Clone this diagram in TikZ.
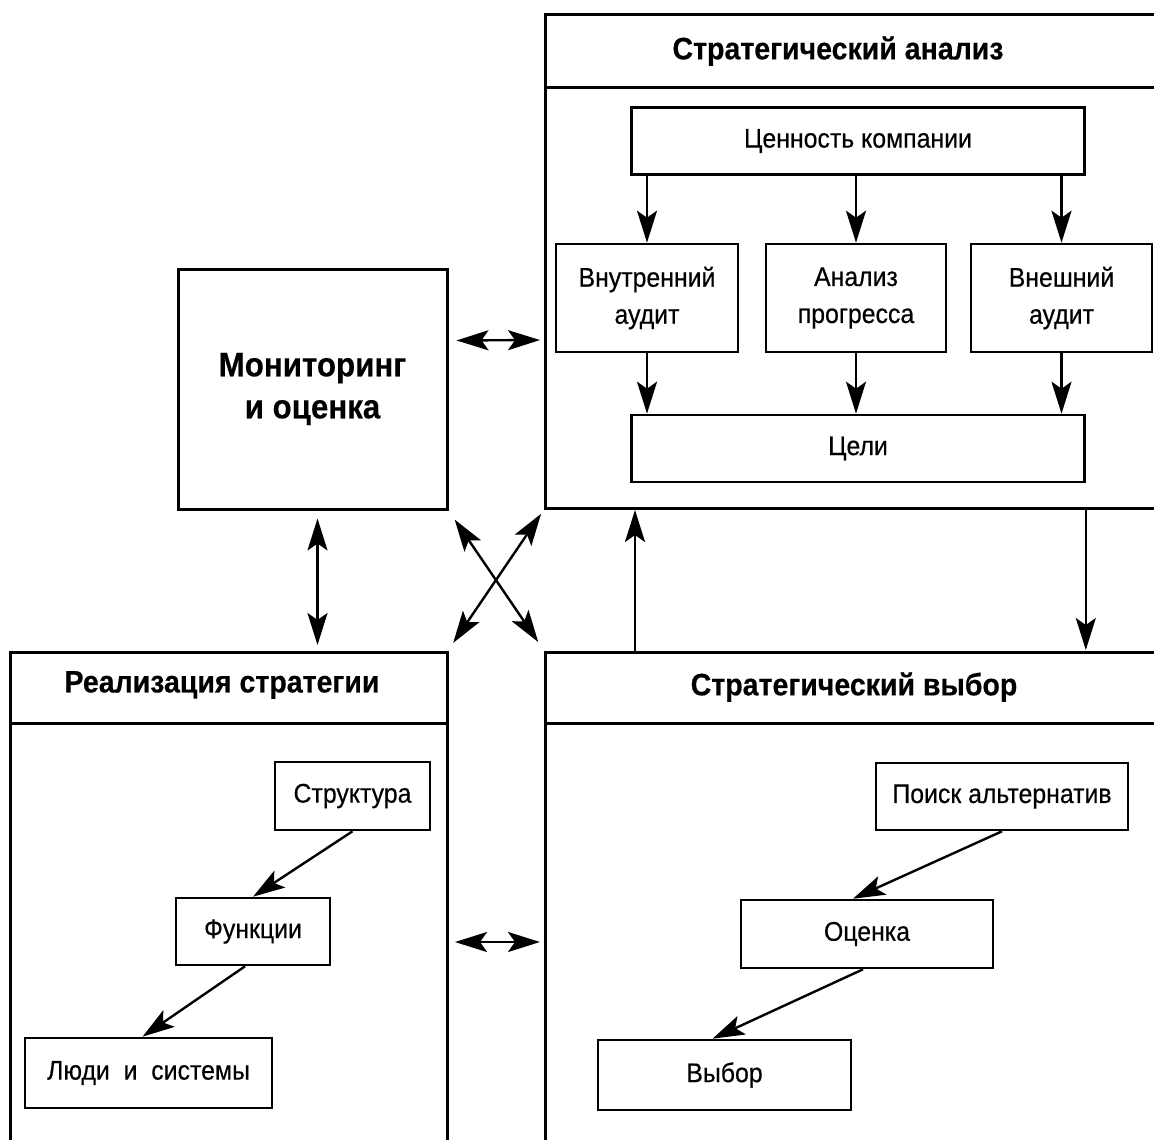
\documentclass[tikz,border=0pt]{standalone}
\usepackage{fontspec}
\setmainfont{Liberation Sans}[FakeStretch=0.92,FakeBold=0.4]
\usetikzlibrary{arrows.meta,positioning,calc}

\begin{document}
\begin{tikzpicture}[x=1pt,y=-1pt,
    >={Stealth[length=32pt,width=20pt,inset=7pt]},
    panel/.style={draw,line width=3pt,anchor=north west,outer sep=0pt,inner sep=0pt},
    box/.style={draw,line width=2.6pt,align=center,inner sep=0pt,font=\fontsize{27}{37}\selectfont},
    heading/.style={font=\fontsize{31}{36}\selectfont\bfseries},
    link/.style={line width=2.4pt}]
    % Canvas
    \useasboundingbox (0,0) rectangle (1154,1140);
    \clip (0,0) rectangle (1154,1140);

    % Panels
    \node[panel,minimum width=655pt,minimum height=493pt] (analysis) at (545,15) {};
    \node[panel,minimum width=437pt,minimum height=548pt] (implementation) at (10,652) {};
    \node[panel,minimum width=655pt,minimum height=548pt] (choice) at (545,652) {};
    \draw[line width=3pt] ([yshift=-72pt]analysis.north west) -- ([yshift=-72pt]analysis.north east);
    \draw[line width=3pt] ([yshift=-71pt]implementation.north west) -- ([yshift=-71pt]implementation.north east);
    \draw[line width=3pt] ([yshift=-71pt]choice.north west) -- ([yshift=-71pt]choice.north east);
    \node[heading] (analysisTitle) at (838,51) {Стратегический анализ};
    \node[heading] (implementationTitle) at (222,685) {Реализация стратегии};
    \node[heading] (choiceTitle) at (854,687) {Стратегический выбор};

    % Monitoring
    \node[draw,line width=3pt,minimum width=269pt,minimum height=240pt,align=center,
          font=\fontsize{34}{42}\selectfont\bfseries] (monitor) at (312.5,389) {Мониторинг\\и оценка};

    % Strategic analysis
    \node[box,minimum width=453pt,minimum height=67pt] (value) at (858,141) {Ценность компании};
    \node[box,minimum width=182pt,minimum height=108pt] (internal) at (647,298) {Внутренний\\аудит};
    \node[box,minimum width=180pt,minimum height=108pt] (progress) at (856,298) {Анализ\\прогресса};
    \node[box,minimum width=181pt,minimum height=108pt] (external) at (1061.5,298) {Внешний\\аудит};
    \node[box,minimum width=453pt,minimum height=67pt] (goals) at (858,448.5) {Цели};
    \foreach \n in {internal,progress,external}{
        \draw[link,->] (value.south -| \n.north) -- (\n.north);
        \draw[link,->] (\n.south) -- (goals.north -| \n.south);
    }

    % Strategy implementation
    \node[box,minimum width=155pt,minimum height=68pt] (structure) at (352.5,796) {Структура};
    \node[box,minimum width=154pt,minimum height=67pt] (functions) at (253,931.5) {Функции};
    \node[box,minimum width=247pt,minimum height=70pt] (people) at (148.5,1073) {Люди \ и \ системы};
    \draw[link,->] (structure.south) -- (functions.north);
    \draw[link,->] ([xshift=-8pt]functions.south) -- ([xshift=-6pt]people.north);

    % Strategic choice
    \node[box,minimum width=252pt,minimum height=67pt] (search) at (1002,796.5) {Поиск альтернатив};
    \node[box,minimum width=252pt,minimum height=68pt] (evaluation) at (867,934) {Оценка};
    \node[box,minimum width=253pt,minimum height=70pt] (selection) at (724.5,1075) {Выбор};
    \draw[link,->] (search.south) -- ([xshift=-14pt]evaluation.north);
    \draw[link,->] ([xshift=-4pt]evaluation.south) -- ([xshift=-12pt]selection.north);

    % Links between panels
    \draw[link,<->,shorten <=8pt,shorten >=5pt] ([yshift=-73pt]monitor.north east) -- ([yshift=-325pt]analysis.north west);
    \draw[link,<->,shorten <=8pt,shorten >=7pt] ([xshift=5pt]monitor.south) -- ([xshift=5pt]monitor.south |- implementation.north);
    \draw[link,<->,shorten <=11pt,shorten >=12pt] (monitor.south east) -- (choice.north west);
    \draw[link,<->,shorten <=7pt,shorten >=11pt] (analysis.south west) -- (implementation.north east);
    \draw[link,->,shorten >=2pt] ([xshift=90pt]choice.north west) -- ([xshift=90pt]analysis.south west);
    \draw[link,->,shorten >=2pt] (analysis.south -| goals.east) -- (choice.north -| goals.east);
    \draw[link,<->,shorten <=8pt,shorten >=5pt] ([yshift=-290pt]implementation.north east) -- ([yshift=-290pt]choice.north west);
\end{tikzpicture}
\end{document}
